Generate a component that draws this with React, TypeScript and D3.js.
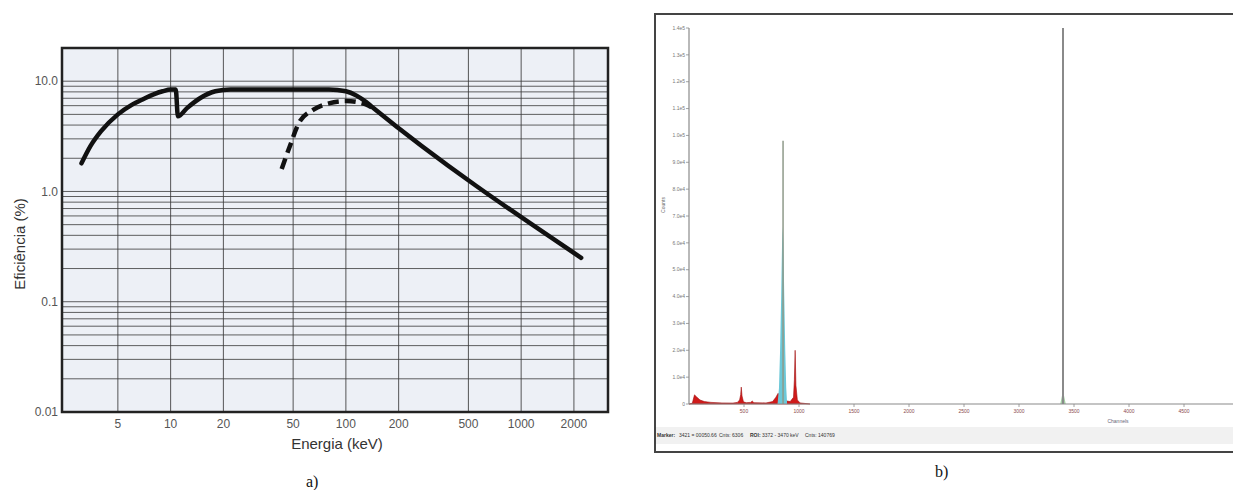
import * as d3 from "d3";

const W = 1233;
const H = 490;

// ---- a) detector efficiency (log-log) ----
const energyTicks = [5, 10, 20, 50, 100, 200, 500, 1000, 2000];
const effTicks = [0.01, 0.1, 1, 10];
const effTickLabels = ["0.01", "0.1", "1.0", "10.0"];

// [energy keV, efficiency %]
const solidCurve: [number, number][] = [
  [3.1, 1.8], [3.5, 2.6], [4, 3.5], [5, 5.0], [6, 6.1], [7, 6.9], [8, 7.6],
  [9, 8.1], [10, 8.4], [10.7, 8.4], [11, 4.8], [12.4, 5.7], [14.7, 7.0],
  [18, 8.1], [22, 8.4], [80, 8.4], [100, 8.1], [115, 7.4], [130, 6.5],
  [140, 5.9], [2200, 0.25],
];
const dashedCurve: [number, number][] = [
  [43, 1.6], [48, 2.6], [54, 4.2], [65, 5.5], [80, 6.3], [100, 6.6],
  [120, 6.4], [135, 6.0], [145, 5.6],
];

// ---- b) gamma spectrum ----
const countTicks = [0, 10000, 20000, 30000, 40000, 50000, 60000, 70000, 80000, 90000, 100000, 110000, 120000, 130000, 140000];
const countTickLabels = ["0", "1.0e4", "2.0e4", "3.0e4", "4.0e4", "5.0e4", "6.0e4", "7.0e4", "8.0e4", "9.0e4", "1.0e5", "1.1e5", "1.2e5", "1.3e5", "1.4e5"];
const channelTicks = [500, 1000, 1500, 2000, 2500, 3000, 3500, 4000, 4500, 5000];

// [channel, counts]
const redSpectrum: [number, number][] = [
  [0, 0], [30, 300], [50, 3400], [70, 2600], [100, 1500], [140, 900], [200, 600],
  [300, 400], [400, 350], [440, 600], [460, 1500], [470, 3500], [475, 6300],
  [482, 3000], [495, 800], [520, 500], [560, 600], [575, 1100], [590, 500],
  [700, 400], [760, 900], [790, 2500], [810, 4000], [830, 3000], [880, 1200],
  [920, 900], [950, 2500], [958, 9000], [965, 20000], [972, 7000], [985, 1500],
  [1010, 400], [1100, 0],
];
const roiSpectrum: [number, number][] = [
  [805, 0], [818, 6000], [828, 20000], [838, 40000], [846, 60000], [852, 66000],
  [858, 60000], [866, 40000], [875, 20000], [884, 6000], [892, 0],
];
const roiPeak: [number, number] = [855, 98000];
const mainPeak: [number, number] = [3400, 140000];
const mainPeakBase: [number, number][] = [
  [3375, 0], [3390, 3000], [3400, 5000], [3410, 3000], [3425, 0],
];

const sans = "'Liberation Sans', Arial, sans-serif";
const serif = "'Liberation Serif', 'Times New Roman', serif";

function EfficiencyChart() {
  const x = d3.scaleLog().domain([2.4, 3130]).range([62, 608]);
  const y = d3.scaleLog().domain([0.01, 20]).range([412, 48]);
  const line = d3
    .line<[number, number]>()
    .x((d) => x(d[0]))
    .y((d) => y(d[1]))
    .curve(d3.curveMonotoneX);
  const hGrid = y.ticks().filter((v) => v <= 10.0001);

  return (
    <g>
      <rect x={62} y={48} width={546} height={364} fill="#edf0f6" />
      {hGrid.map((v, i) => (
        <line key={"h" + i} x1={62} x2={608} y1={y(v)} y2={y(v)} stroke="#3a3a3a" strokeWidth={1} strokeOpacity={0.8} />
      ))}
      {energyTicks.map((v) => (
        <line key={"v" + v} x1={x(v)} x2={x(v)} y1={48} y2={412} stroke="#3a3a3a" strokeWidth={1} strokeOpacity={0.85} />
      ))}
      <rect x={62} y={48} width={546} height={364} fill="none" stroke="#222" strokeWidth={2.5} />
      <path d={line(solidCurve) || ""} fill="none" stroke="#111" strokeWidth={4.5} strokeLinejoin="round" strokeLinecap="round" />
      <path d={line(dashedCurve) || ""} fill="none" stroke="#111" strokeWidth={4.5} strokeDasharray="11,6" />
      {effTicks.map((v, i) => (
        <text key={"yl" + v} x={58} y={y(v)} dy="0.35em" textAnchor="end" fontFamily={sans} fontSize={12} fill="#555">
          {effTickLabels[i]}
        </text>
      ))}
      {energyTicks.map((v) => (
        <text key={"xl" + v} x={x(v)} y={428} textAnchor="middle" fontFamily={sans} fontSize={12} fill="#555">
          {v}
        </text>
      ))}
      <text x={337} y={449} textAnchor="middle" fontFamily={sans} fontSize={15} fill="#333">
        Energia (keV)
      </text>
      <text transform="translate(25,244) rotate(-90)" textAnchor="middle" fontFamily={sans} fontSize={15} fill="#333">
        Eficiência (%)
      </text>
      <text x={306} y={487} fontFamily={serif} fontSize={16} fill="#111">
        a)
      </text>
    </g>
  );
}

function SpectrumChart() {
  const x = d3.scaleLinear().domain([0, 5000]).range([689, 1239]);
  const y = d3.scaleLinear().domain([0, 140000]).range([404, 28]);
  const area = d3
    .area<[number, number]>()
    .x((d) => x(d[0]))
    .y0(y(0))
    .y1((d) => y(d[1]));

  return (
    <g>
      <rect x={655} y={14} width={620} height={438} fill="#fff" stroke="#444" strokeWidth={2} />
      <path d={area(redSpectrum) || ""} fill="#d01a1a" stroke="#a01010" strokeWidth={0.6} />
      <path d={area(roiSpectrum) || ""} fill="#6cc8d8" />
      <line x1={x(roiPeak[0])} x2={x(roiPeak[0])} y1={y(0)} y2={y(roiPeak[1])} stroke="#8f9a8a" strokeWidth={1.5} />
      <path d={area(mainPeakBase) || ""} fill="#a6cfa6" />
      <line x1={x(mainPeak[0])} x2={x(mainPeak[0])} y1={y(0)} y2={y(mainPeak[1])} stroke="#8a8a8a" strokeWidth={2} />
      <line x1={689} x2={689} y1={y(140000)} y2={y(0)} stroke="#8a8a8a" strokeWidth={1.2} />
      <line x1={689} x2={W} y1={y(0)} y2={y(0)} stroke="#8a8a8a" strokeWidth={1.2} />
      {countTicks.map((v, i) => (
        <g key={"cy" + v}>
          <line x1={686} x2={689} y1={y(v)} y2={y(v)} stroke="#8a8a8a" strokeWidth={0.8} />
          <text x={685} y={y(v)} dy="0.35em" textAnchor="end" fontFamily={sans} fontSize={5} fill="#777">
            {countTickLabels[i]}
          </text>
        </g>
      ))}
      {channelTicks.map((v) => (
        <g key={"cx" + v}>
          <line x1={x(v)} x2={x(v)} y1={y(0)} y2={y(0) + 3} stroke="#8a8a8a" strokeWidth={0.8} />
          <text x={x(v)} y={413} textAnchor="middle" fontFamily={sans} fontSize={5} fill="#8a4a4a">
            {v}
          </text>
        </g>
      ))}
      <text x={1118} y={423} textAnchor="middle" fontFamily={sans} fontSize={5} fill="#667">
        Channels
      </text>
      <text transform="translate(665,205) rotate(-90)" textAnchor="middle" fontFamily={sans} fontSize={5} fill="#666">
        Counts
      </text>
      <rect x={656} y={427} width={W - 656} height={17} fill="#f1f1f1" />
      <g fontFamily={sans} fontSize={5} fill="#333">
        <text x={657} y={437} fontWeight="bold">Marker:</text>
        <text x={679} y={437}>3421 = 00050.66</text>
        <text x={719} y={437}>Cnts: 6306</text>
        <text x={750} y={437} fontWeight="bold">ROI:</text>
        <text x={762} y={437}>3372 - 3470 keV</text>
        <text x={805} y={437}>Cnts: 140769</text>
      </g>
      <text x={935} y={477} fontFamily={serif} fontSize={16} fill="#111">
        b)
      </text>
    </g>
  );
}

export default function App() {
  return (
    <svg width={W} height={H} style={{ position: "absolute", left: 0, top: 0, background: "#fff" }}>
      <EfficiencyChart />
      <SpectrumChart />
    </svg>
  );
}
